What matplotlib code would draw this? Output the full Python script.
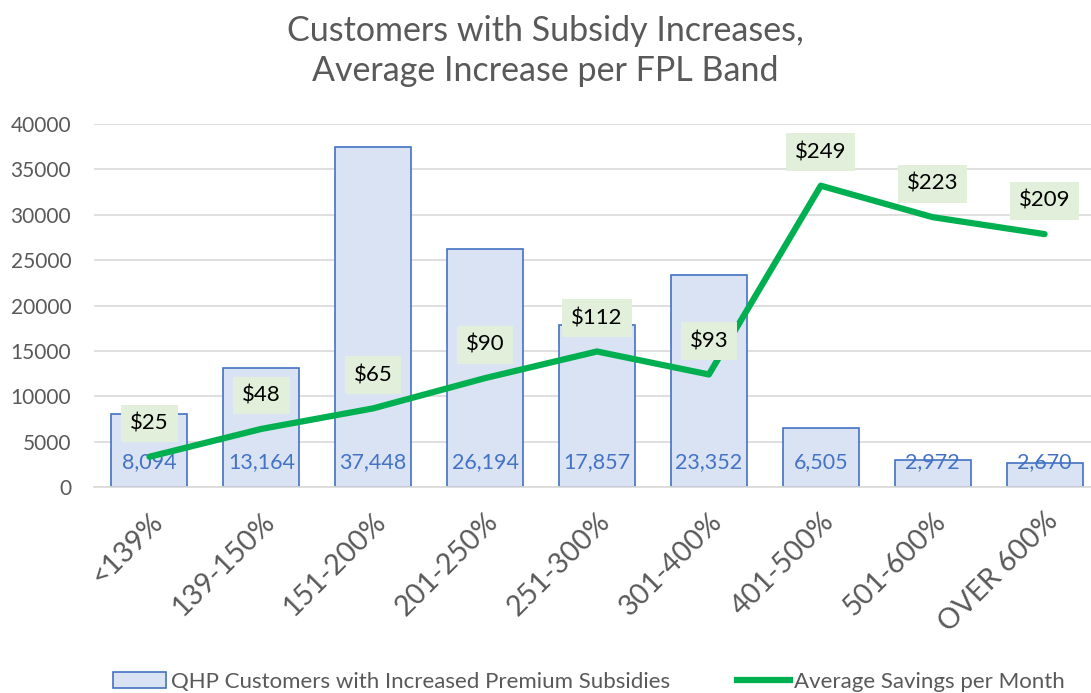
import matplotlib
matplotlib.use("Agg")
import matplotlib.pyplot as plt
from matplotlib.lines import Line2D
from matplotlib.patches import Patch

plt.rcParams['font.family'] = ['Lato', 'DejaVu Sans']

bands = ["<139%", "139-150%", "151-200%", "201-250%", "251-300%",
         "301-400%", "401-500%", "501-600%", "OVER 600%"]
customers = [8094, 13164, 37448, 26194, 17857, 23352, 6505, 2972, 2670]
savings = [25, 48, 65, 90, 112, 93, 249, 223, 209]

BAR_FILL = "#DAE3F3"
BAR_EDGE = "#4472C4"
LINE_GREEN = "#00B050"
LABEL_BOX = "#E2EFDA"
GREY = "#595959"
GRID = "#D9D9D9"

fig = plt.figure(figsize=(10.91, 6.93), dpi=100)
W, H = 1091, 693
ax = fig.add_axes([93.5 / W, 1 - 487 / H, 1007 / W, 363 / H])

x = list(range(len(bands)))
ax.bar(x, customers, width=0.68, color=BAR_FILL, edgecolor=BAR_EDGE,
       linewidth=1.2, zorder=2)
ax.set_xlim(-0.5, len(bands) - 0.5)
ax.set_ylim(0, 40000)
ax.set_yticks(range(0, 40001, 5000))
ax.set_yticklabels([str(v) for v in range(0, 40001, 5000)])
ax.yaxis.grid(True, color=GRID, linewidth=1.2, zorder=0)
ax.set_axisbelow(True)
for s in ["top", "right", "left"]:
    ax.spines[s].set_visible(False)
ax.spines["bottom"].set_color(GRID)
ax.spines["bottom"].set_linewidth(1.2)
ax.tick_params(axis="both", length=0, colors=GREY)
ax.tick_params(axis="y", labelsize=15, pad=16)
ax.set_xticks(x)
ax.set_xticklabels(bands, rotation=45, ha="right", rotation_mode="anchor",
                   fontsize=20.5)
ax.tick_params(axis="x", pad=15)

# bar values at the base of each bar
for xi, v in zip(x, customers):
    ax.annotate(f"{v:,}", (xi, 0), xytext=(0, 18), textcoords="offset points",
                ha="center", va="center", fontsize=15.5, color=BAR_EDGE, zorder=3)

# savings line on a hidden second scale
ax2 = ax.twinx()
ax2.set_ylim(0, 300)
ax2.axis("off")
ax2.plot(x, savings, color=LINE_GREEN, linewidth=4.5, solid_capstyle="round",
         solid_joinstyle="round", zorder=4)
for xi, v in zip(x, savings):
    ax2.annotate(f"${v}", (xi, v), xytext=(0, 24), textcoords="offset points",
                 ha="center", va="center", fontsize=16, color="black",
                 bbox=dict(boxstyle="square,pad=0.4", fc=LABEL_BOX, ec="none"),
                 zorder=5)

fig.text(0.5, 1 - 31 / H, "Customers with Subsidy Increases,", ha="center",
         va="center", fontsize=24.5, color=GREY)
fig.text(0.5, 1 - 71 / H, "Average Increase per FPL Band", ha="center",
         va="center", fontsize=24.5, color=GREY)

handles = [Patch(facecolor=BAR_FILL, edgecolor=BAR_EDGE, linewidth=1.2),
           Line2D([0], [0], color=LINE_GREEN, linewidth=4.5)]
labels = ["QHP Customers with Increased Premium Subsidies",
          "Average Savings per Month"]
fig.legend(handles, labels, loc="center", bbox_to_anchor=(589 / W, 1 - 682 / H),
           ncol=2, frameon=False, fontsize=16, labelcolor=GREY,
           handlelength=2.4, handletextpad=0.2, columnspacing=3.0)

fig.savefig("out.png", dpi=100)
